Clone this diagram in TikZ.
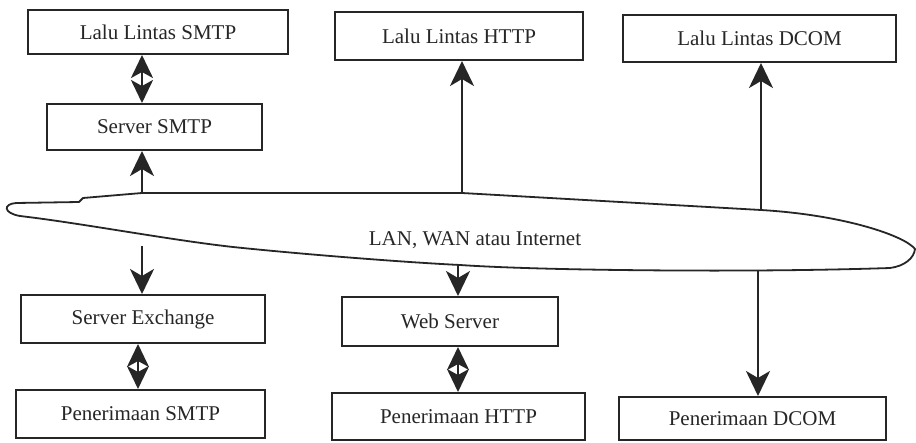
\documentclass[tikz,border=0pt]{standalone}
\usepackage{fontspec}
\setmainfont{Liberation Serif}
\usetikzlibrary{arrows.meta}
\definecolor{ink}{RGB}{38,38,38}
\begin{document}
\begin{tikzpicture}[x=1pt,y=-1pt,
  box/.style={draw=ink,line width=2pt,text=ink,font=\fontsize{21}{25}\selectfont,inner sep=0pt},
  arr/.style={draw=ink,line width=2.4pt,-{Stealth[length=25pt,width=24pt,inset=7pt]}},
  dbl/.style={draw=ink,line width=2.4pt,{Stealth[length=23pt,width=22pt,inset=6pt]}-{Stealth[length=23pt,width=22pt,inset=6pt]}},
  cloud/.style={draw=ink,line width=1.8pt,line join=round},
  lbl/.style={text=ink,font=\fontsize{21}{25}\selectfont,inner sep=0pt}]
\useasboundingbox[fill=white] (0,0) rectangle (916,442);

% boxes
\node[box,minimum width=260pt,minimum height=44pt] (llsmtp) at (158,32) {Lalu Lintas SMTP};
\node[box,minimum width=215pt,minimum height=46pt] (ssmtp) at (154.5,127) {Server SMTP};
\node[box,minimum width=248pt,minimum height=48pt] (llhttp) at (459,36) {Lalu Lintas HTTP};
\node[box,minimum width=273pt,minimum height=47pt] (lldcom) at (759.5,38.5) {Lalu Lintas DCOM};
\node[box,minimum width=244pt,minimum height=48pt] (sex) at (143,319) {Server Exchange};
\node[box,minimum width=249pt,minimum height=48pt] (psmtp) at (140.5,414) {Penerimaan SMTP};
\node[box,minimum width=216pt,minimum height=49pt] (ws) at (450,321.5) {Web Server};
\node[box,minimum width=253pt,minimum height=47pt] (phttp) at (458.5,416.5) {Penerimaan HTTP};
\node[box,minimum width=267pt,minimum height=43pt] (pdcom) at (752.5,418.5) {Penerimaan DCOM};

% cloud
\draw[cloud] (20,216) .. controls (3,213) and (3,204) .. (16,203) -- (79,202) -- (83,198) -- (142,193) -- (462,193)
  -- (761,210) .. controls (845,215) and (905,236) .. (915,249)
  .. controls (914,258) and (905,266) .. (890,268)
  .. controls (800,271) and (700,271) .. (620,270)
  .. controls (540,269) and (490,267) .. (460,265)
  .. controls (400,262) and (300,254) .. (233,247)
  .. controls (170,240) and (80,223) .. (20,216) -- cycle;
\node[lbl] (lan) at (475,240) {LAN, WAN atau Internet};

% attachment points on the cloud
\coordinate (c1) at (142,193);
\coordinate (c2) at (462,193);
\coordinate (c3) at (761,210);
\coordinate (c4) at (142,246);
\coordinate (c5) at (458,265);
\coordinate (c6) at (758,270);
\coordinate (c7) at (138,366);

% connectors
\draw[dbl] (ssmtp.north -| c1) -- (llsmtp.south -| c1);
\draw[arr] (c1) -- (ssmtp.south -| c1);
\draw[arr] (c2) -- (llhttp.south -| c2);
\draw[arr] (c3) -- (lldcom.south -| c3);
\draw[arr] (c4) -- (sex.north -| c4);
\draw[arr] (c5) -- (ws.north -| c5);
\draw[arr] (c6) -- (pdcom.north -| c6);
\draw[dbl] (sex.south -| c7) -- (psmtp.north -| c7);
\draw[dbl] (ws.south -| c5) -- (phttp.north -| c5);
\end{tikzpicture}
\end{document}
